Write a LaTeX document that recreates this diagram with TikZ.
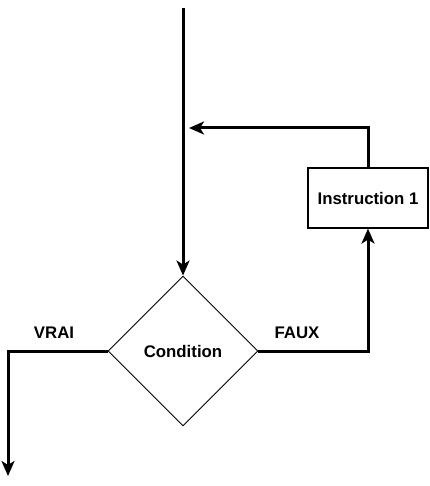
\documentclass[tikz,border=0pt]{standalone}
\usepackage{fontspec}
\setmainfont{Liberation Sans}
\usetikzlibrary{shapes.geometric,arrows.meta}
\begin{document}
\begin{tikzpicture}[x=1pt,y=-1pt,
  lbl/.style={font=\fontsize{16.8}{19}\selectfont\bfseries, inner sep=0pt},
  flow/.style={line width=3pt, -{Stealth[length=15pt,width=13pt,inset=4pt]}},
  dec/.style={draw, diamond, line width=0.9pt, minimum width=150pt, minimum height=150pt, inner sep=0pt, aspect=1},
  proc/.style={draw, rectangle, line width=1.2pt, minimum width=120pt, minimum height=60pt, inner sep=0pt}]
\useasboundingbox (0,0) rectangle (429,486);
\node[dec] (cond) at (183,351) {};
\node[lbl] at (183,351) {Condition};
\node[proc] (ins) at (368,198) {};
\node[lbl] at (368,198) {Instruction 1};
\coordinate (start) at (183,8);
\coordinate (ret) at (183,128);
\coordinate (vrai) at (8,476);
\draw[flow] (start) -- (cond.north);
\draw[flow] (ins.north) |- ([xshift=6pt]ret);
\draw[flow] (cond.east) -| (ins.south);
\draw[flow] (cond.west) -| (vrai);
\node[lbl] at (54,333) {VRAI};
\node[lbl] at (297,333) {FAUX};
\end{tikzpicture}
\end{document}
